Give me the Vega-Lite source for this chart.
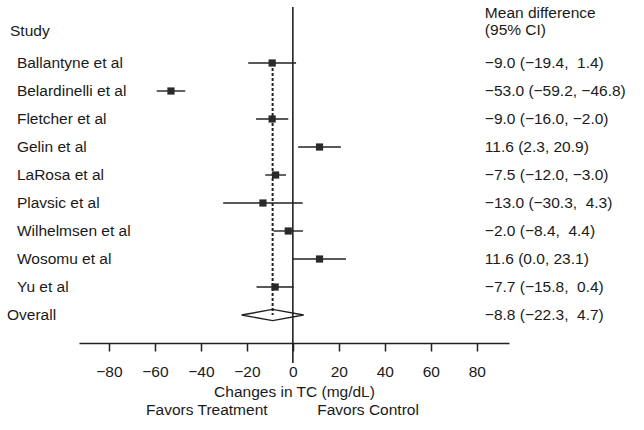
{
  "$schema": "https://vega.github.io/schema/vega-lite/v6.json",
  "width": 430,
  "height": 356,
  "autosize": {"type": "none"},
  "padding": {"left": 79, "top": 7, "right": 135, "bottom": 67},
  "background": "white",
  "config": {
    "view": {"stroke": null},
    "font": "Liberation Sans",
    "text": {"font": "Liberation Sans", "fontSize": 15.5, "color": "#1a1a1a", "baseline": "middle"}
  },
  "data": {
    "values": [
      {"study": "Ballantyne et al", "row": 1, "type": "study", "est": -9.0, "lo": -19.4, "hi": 1.4, "ci": "−9.0 (−19.4, \u00a01.4)"},
      {"study": "Belardinelli et al", "row": 2, "type": "study", "est": -53.0, "lo": -59.2, "hi": -46.8, "ci": "−53.0 (−59.2, −46.8)"},
      {"study": "Fletcher et al", "row": 3, "type": "study", "est": -9.0, "lo": -16.0, "hi": -2.0, "ci": "−9.0 (−16.0, −2.0)"},
      {"study": "Gelin et al", "row": 4, "type": "study", "est": 11.6, "lo": 2.3, "hi": 20.9, "ci": "\u00a011.6 (2.3, 20.9)"},
      {"study": "LaRosa et al", "row": 5, "type": "study", "est": -7.5, "lo": -12.0, "hi": -3.0, "ci": "−7.5 (−12.0, −3.0)"},
      {"study": "Plavsic et al", "row": 6, "type": "study", "est": -13.0, "lo": -30.3, "hi": 4.3, "ci": "−13.0 (−30.3, \u00a04.3)"},
      {"study": "Wilhelmsen et al", "row": 7, "type": "study", "est": -2.0, "lo": -8.4, "hi": 4.4, "ci": "−2.0 (−8.4, \u00a04.4)"},
      {"study": "Wosomu et al", "row": 8, "type": "study", "est": 11.6, "lo": 0.0, "hi": 23.1, "ci": "\u00a011.6 (0.0, 23.1)"},
      {"study": "Yu et al", "row": 9, "type": "study", "est": -7.7, "lo": -15.8, "hi": 0.4, "ci": "−7.7 (−15.8, \u00a00.4)"},
      {"study": "Overall", "row": 10, "type": "overall", "est": -8.8, "lo": -22.3, "hi": 4.7, "ci": "−8.8 (−22.3, \u00a04.7)"}
    ]
  },
  "layer": [
    {
      "transform": [{"filter": "datum.type == 'study'"}],
      "mark": {"type": "rule", "color": "#222", "strokeWidth": 1.4},
      "encoding": {
        "x": {"field": "lo", "type": "quantitative", "scale": {"domain": [-93, 94], "nice": false, "zero": false},
          "axis": {"values": [-80, -60, -40, -20, 0, 20, 40, 60, 80], "grid": false, "offset": -20, "domainColor": "#222", "domainWidth": 1.6,
            "tickColor": "#222", "tickWidth": 1.5, "tickSize": 8, "labelFontSize": 15.5, "labelColor": "#1a1a1a", "labelFont": "Liberation Sans",
            "labelPadding": 13, "title": "Changes in TC (mg/dL)", "titleFontSize": 15.5, "titleFontWeight": "normal", "titleColor": "#1a1a1a",
            "titleFont": "Liberation Sans", "titlePadding": 5}},
        "x2": {"field": "hi"},
        "y": {"field": "row", "type": "quantitative", "scale": {"domain": [-1, 11.714], "nice": false, "zero": false, "reverse": true}, "axis": null}
      }
    },
    {
      "transform": [{"filter": "datum.type == 'overall'"}],
      "mark": {"type": "rule", "color": "#222", "strokeWidth": 1.6},
      "encoding": {
        "x": {"datum": 0, "type": "quantitative"}
      }
    },
    {
      "transform": [
        {"joinaggregate": [{"op": "min", "field": "row", "as": "first"}]},
        {"filter": "datum.type == 'overall'"}
      ],
      "mark": {"type": "rule", "color": "#222", "strokeWidth": 2, "strokeDash": [3, 2]},
      "encoding": {
        "x": {"field": "est", "type": "quantitative"},
        "y": {"field": "first", "type": "quantitative"},
        "y2": {"field": "row"}
      }
    },
    {
      "transform": [{"filter": "datum.type == 'study'"}],
      "mark": {"type": "point", "shape": "square", "filled": true, "color": "#2a2a2a", "size": 52, "opacity": 1},
      "encoding": {
        "x": {"field": "est", "type": "quantitative"},
        "y": {"field": "row", "type": "quantitative"}
      }
    },
    {
      "transform": [{"filter": "datum.type == 'overall'"}],
      "mark": {"type": "point", "shape": "M-1,0L0,-0.18L1,0L0,0.18Z", "filled": false, "stroke": "#222", "strokeWidth": 1.4, "size": 3844, "opacity": 1},
      "encoding": {
        "x": {"field": "est", "type": "quantitative"},
        "y": {"field": "row", "type": "quantitative"}
      }
    },
    {
      "transform": [{"filter": "datum.type == 'study'"}],
      "mark": {"type": "text", "align": "left"},
      "encoding": {
        "x": {"datum": -120, "type": "quantitative"},
        "y": {"field": "row", "type": "quantitative"},
        "text": {"field": "study", "type": "nominal"}
      }
    },
    {
      "transform": [{"filter": "datum.type == 'overall'"}],
      "mark": {"type": "text", "align": "left"},
      "encoding": {
        "x": {"datum": -124.3, "type": "quantitative"},
        "y": {"field": "row", "type": "quantitative"},
        "text": {"field": "study", "type": "nominal"}
      }
    },
    {
      "mark": {"type": "text", "align": "left"},
      "encoding": {
        "x": {"datum": 83.5, "type": "quantitative"},
        "y": {"field": "row", "type": "quantitative"},
        "text": {"field": "ci", "type": "nominal"}
      }
    },
    {
      "transform": [{"filter": "datum.type == 'overall'"}],
      "mark": {"type": "text", "align": "left", "text": "Study"},
      "encoding": {
        "x": {"datum": -123, "type": "quantitative"},
        "y": {"datum": -0.14, "type": "quantitative"}
      }
    },
    {
      "transform": [{"filter": "datum.type == 'overall'"}],
      "mark": {"type": "text", "align": "left", "text": "(95% CI)"},
      "encoding": {
        "x": {"datum": 83.5, "type": "quantitative"},
        "y": {"datum": -0.18, "type": "quantitative"}
      }
    },
    {
      "transform": [{"filter": "datum.type == 'overall'"}],
      "mark": {"type": "text", "align": "left", "text": "Mean difference"},
      "encoding": {
        "x": {"datum": 83.5, "type": "quantitative"},
        "y": {"datum": -0.79, "type": "quantitative"}
      }
    },
    {
      "transform": [{"filter": "datum.type == 'overall'"}],
      "mark": {"type": "text", "align": "center", "text": "Favors Treatment"},
      "encoding": {
        "x": {"datum": -37.4, "type": "quantitative"},
        "y": {"datum": 13.39, "type": "quantitative"}
      }
    },
    {
      "transform": [{"filter": "datum.type == 'overall'"}],
      "mark": {"type": "text", "align": "center", "text": "Favors Control"},
      "encoding": {
        "x": {"datum": 32.7, "type": "quantitative"},
        "y": {"datum": 13.39, "type": "quantitative"}
      }
    }
  ]
}
